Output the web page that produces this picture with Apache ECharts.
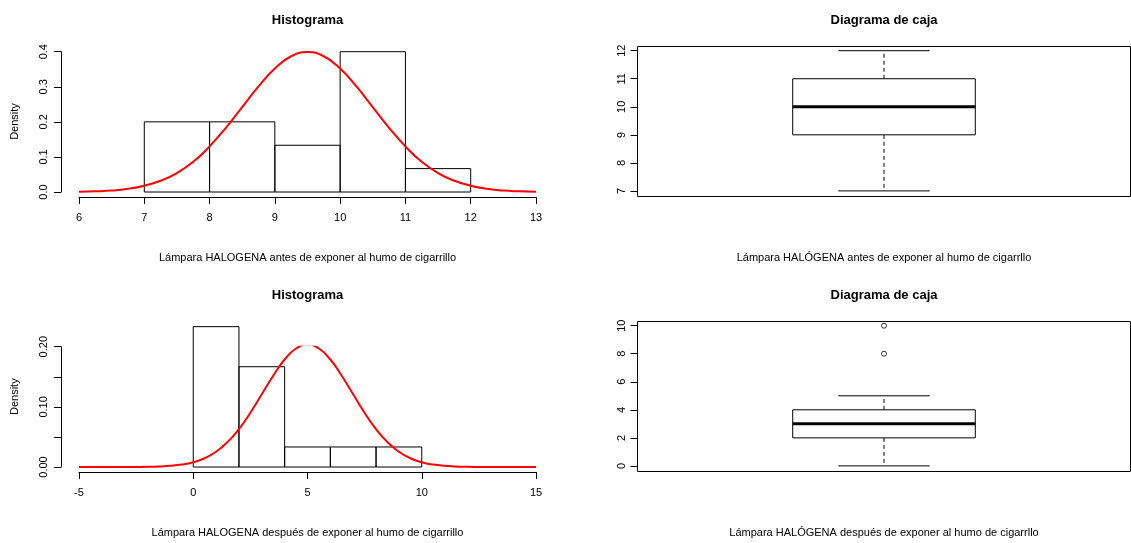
<!DOCTYPE html>
<html>
<head>
<meta charset="utf-8">
<title>Histograma y Diagrama de caja</title>
<script src="https://cdn.jsdelivr.net/npm/echarts@6/dist/echarts.min.js"></script>
<style>
  html, body { margin: 0; padding: 0; background: #fff; }
  #main { width: 1131px; height: 543px; }
</style>
</head>
<body>
<div id="main"></div>
<script>
// histograma antes (densidad por clase)
var histAntesBreaks = [7, 8, 9, 10, 11, 12];
var histAntesDensity = [0.2, 0.2, 0.1333, 0.4, 0.0667];
// curva normal
var curvaAntesX = [6, 6.25, 6.5, 6.75, 7, 7.25, 7.5, 7.75, 8, 8.25, 8.5, 8.75, 9, 9.25, 9.5,
  9.75, 10, 10.25, 10.5, 10.75, 11, 11.25, 11.5, 11.75, 12, 12.25, 12.5, 12.75, 13];
var curvaAntesY = [0.001, 0.002, 0.004, 0.009, 0.018, 0.032, 0.054, 0.086, 0.130, 0.183, 0.242, 0.301, 0.352, 0.387, 0.399,
  0.387, 0.352, 0.301, 0.242, 0.183, 0.130, 0.086, 0.054, 0.032, 0.018, 0.009, 0.004, 0.002, 0.001];

// histograma despues
var histDespuesBreaks = [0, 2, 4, 6, 8, 10];
var histDespuesDensity = [0.2333, 0.1667, 0.0333, 0.0333, 0.0333];
var curvaDespuesX = [-5, -4.5, -4, -3.5, -3, -2.5, -2, -1.5, -1, -0.5, 0, 0.5, 1, 1.5, 2, 2.5, 3, 3.5, 4, 4.5, 5,
  5.5, 6, 6.5, 7, 7.5, 8, 8.5, 9, 9.5, 10, 10.5, 11, 11.5, 12, 12.5, 13, 13.5, 14, 14.5, 15];
var curvaDespuesY = [0, 0, 0, 0, 0, 0.0001, 0.0003, 0.0008, 0.0019, 0.0040, 0.0079, 0.0146, 0.0253, 0.0413, 0.0630, 0.0902, 0.1209, 0.1518, 0.1787, 0.1970, 0.2035,
  0.1970, 0.1787, 0.1518, 0.1209, 0.0902, 0.0630, 0.0413, 0.0253, 0.0146, 0.0079, 0.0040, 0.0019, 0.0008, 0.0003, 0.0001, 0, 0, 0, 0, 0];

// diagramas de caja: [min, Q1, mediana, Q3, max]
var cajaAntes = [7, 9, 10, 11, 12];
var atipicosAntes = [];
var cajaDespues = [0, 2, 3, 4, 5];
var atipicosDespues = [8, 10];

var ticksAntes = [7, 8, 9, 10, 11, 12];
var ticksDespues = [0, 2, 4, 6, 8, 10];

var FONT = '"Liberation Sans", Arial, sans-serif';

function zip(a, b) {
    var out = [];
    for (var i = 0; i < a.length; i++) out.push([a[i], b[i]]);
    return out;
}
function histData(breaks, dens) {
    var out = [];
    for (var i = 0; i < dens.length; i++) out.push([breaks[i], breaks[i + 1], dens[i]]);
    return out;
}

function renderHist(params, api) {
    var p0 = api.coord([api.value(0), 0]);
    var p1 = api.coord([api.value(1), api.value(2)]);
    return {
        type: 'rect',
        shape: { x: p0[0], y: p1[1], width: p1[0] - p0[0], height: p0[1] - p1[1] },
        style: { fill: 'none', stroke: '#000', lineWidth: 1 }
    };
}

function renderBox(params, api) {
    var x = api.value(0);
    var lo = api.value(1), q1 = api.value(2), md = api.value(3), q3 = api.value(4), hi = api.value(5);
    function c(dx, v) { return api.coord([x + dx, v]); }
    function line(a, b, w, dash) {
        return {
            type: 'line',
            shape: { x1: a[0], y1: a[1], x2: b[0], y2: b[1] },
            style: { stroke: '#000', lineWidth: w, lineDash: dash || null }
        };
    }
    var b0 = c(-0.2, q3), b1 = c(0.2, q1);
    return {
        type: 'group',
        children: [
            line(c(0, q3), c(0, hi), 1, [4, 3]),
            line(c(0, q1), c(0, lo), 1, [4, 3]),
            line(c(-0.1, hi), c(0.1, hi), 1),
            line(c(-0.1, lo), c(0.1, lo), 1),
            {
                type: 'rect',
                shape: { x: b0[0], y: b0[1], width: b1[0] - b0[0], height: b1[1] - b0[1] },
                style: { fill: '#fff', stroke: '#000', lineWidth: 1 }
            },
            line(c(-0.2, md), c(0.2, md), 3)
        ]
    };
}

function histX(idx, min, max, interval) {
    return {
        gridIndex: idx, type: 'value', min: min, max: max, interval: interval, offset: 5,
        axisLine: { show: true, onZero: false, lineStyle: { color: '#000', width: 1 } },
        axisTick: { show: true, length: 7, lineStyle: { color: '#000' } },
        axisLabel: { margin: 15, color: '#000', fontSize: 11, fontFamily: FONT },
        splitLine: { show: false }
    };
}
function histY(idx, max, interval, digits, labelEvery) {
    return {
        gridIndex: idx, type: 'value', min: 0, max: max, interval: interval, offset: 18,
        axisLine: { show: true, onZero: false, lineStyle: { color: '#000', width: 1 } },
        axisTick: { show: true, length: 7, lineStyle: { color: '#000' } },
        axisLabel: {
            rotate: 90, margin: 12, color: '#000', fontSize: 11, fontFamily: FONT,
            formatter: function (v) {
                var k = v / labelEvery;
                return Math.abs(k - Math.round(k)) < 1e-6 ? v.toFixed(digits) : '';
            }
        },
        splitLine: { show: false }
    };
}
function boxX(idx) {
    return { gridIndex: idx, type: 'value', min: 0.46, max: 1.54, show: false };
}
function boxY(idx, min, max, ticks) {
    return {
        gridIndex: idx, type: 'value', min: min, max: max,
        axisLine: { show: false, onZero: false },
        axisTick: { show: true, length: 7, customValues: ticks, lineStyle: { color: '#000' } },
        axisLabel: { rotate: 90, margin: 10, color: '#000', fontSize: 11, fontFamily: FONT, customValues: ticks },
        splitLine: { show: false }
    };
}

function txt(s, x, y, opts) {
    opts = opts || {};
    return {
        type: 'text', x: x, y: y, rotation: opts.rot || 0, silent: true,
        style: {
            text: s, fill: '#000', align: 'center', verticalAlign: 'middle',
            font: (opts.bold ? 'bold ' : '') + (opts.size || 11) + 'px ' + FONT
        }
    };
}

var chart = echarts.init(document.getElementById('main'));

var option = {
    animation: false,
    backgroundColor: '#fff',
    grid: [
        { left: 79, top: 51.7, width: 457, height: 140.3 },
        { left: 637.5, top: 46.5, width: 493, height: 150, show: true, borderColor: '#000', borderWidth: 1 },
        { left: 79, top: 346.7, width: 457, height: 120.3 },
        { left: 637.5, top: 321.5, width: 493, height: 150, show: true, borderColor: '#000', borderWidth: 1 }
    ],
    xAxis: [
        histX(0, 6, 13, 1),
        boxX(1),
        histX(2, -5, 15, 5),
        boxX(3)
    ],
    yAxis: [
        histY(0, 0.4, 0.1, 1, 0.1),
        boxY(1, 6.8, 12.15, ticksAntes),
        histY(2, 0.2, 0.05, 2, 0.1),
        boxY(3, -0.4, 10.3, ticksDespues)
    ],
    graphic: [
        txt('Histograma', 307.5, 20, { bold: true, size: 13 }),
        txt('Diagrama de caja', 884, 20, { bold: true, size: 13 }),
        txt('Histograma', 307.5, 295, { bold: true, size: 13 }),
        txt('Diagrama de caja', 884, 295, { bold: true, size: 13 }),
        txt('Density', 15, 121.5, { rot: Math.PI / 2 }),
        txt('Density', 15, 396.7, { rot: Math.PI / 2 }),
        txt('Lámpara HALOGENA antes de exponer al humo de cigarrillo', 307.5, 258),
        txt('Lámpara HALÓGENA antes de exponer al humo de cigarrllo', 884, 258),
        txt('Lámpara HALOGENA después de exponer al humo de cigarrillo', 307.5, 533),
        txt('Lámpara HALÓGENA después de exponer al humo de cigarrllo', 884, 533)
    ],
    series: [
        {
            type: 'custom', xAxisIndex: 0, yAxisIndex: 0, clip: false,
            renderItem: renderHist, encode: { x: [0, 1], y: 2 },
            data: histData(histAntesBreaks, histAntesDensity)
        },
        {
            type: 'line', xAxisIndex: 0, yAxisIndex: 0, smooth: true, symbol: 'none',
            lineStyle: { color: '#ff0000', width: 2 },
            data: zip(curvaAntesX, curvaAntesY)
        },
        {
            type: 'custom', xAxisIndex: 1, yAxisIndex: 1,
            renderItem: renderBox, encode: { x: 0, y: [1, 2, 3, 4, 5] },
            data: [[1].concat(cajaAntes)]
        },
        {
            type: 'scatter', xAxisIndex: 1, yAxisIndex: 1, symbol: 'circle', symbolSize: 5,
            itemStyle: { color: '#fff', borderColor: '#000', borderWidth: 1 },
            data: atipicosAntes.map(function (v) { return [1, v]; })
        },
        {
            type: 'custom', xAxisIndex: 2, yAxisIndex: 2, clip: false,
            renderItem: renderHist, encode: { x: [0, 1], y: 2 },
            data: histData(histDespuesBreaks, histDespuesDensity)
        },
        {
            type: 'line', xAxisIndex: 2, yAxisIndex: 2, smooth: true, symbol: 'none',
            lineStyle: { color: '#ff0000', width: 2 },
            data: zip(curvaDespuesX, curvaDespuesY)
        },
        {
            type: 'custom', xAxisIndex: 3, yAxisIndex: 3,
            renderItem: renderBox, encode: { x: 0, y: [1, 2, 3, 4, 5] },
            data: [[1].concat(cajaDespues)]
        },
        {
            type: 'scatter', xAxisIndex: 3, yAxisIndex: 3, symbol: 'circle', symbolSize: 5,
            itemStyle: { color: '#fff', borderColor: '#000', borderWidth: 1 },
            data: atipicosDespues.map(function (v) { return [1, v]; })
        }
    ]
};

chart.setOption(option);
</script>
</body>
</html>
